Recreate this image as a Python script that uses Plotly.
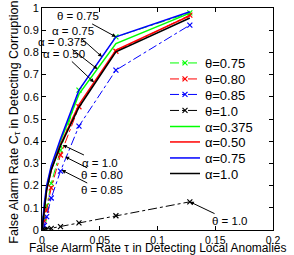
import plotly.graph_objects as go

fa_tau = [0, 0.002, 0.004, 0.008, 0.016, 0.032, 0.064, 0.128]

theta_labels = ["θ=0.75", "θ=0.80", "θ=0.85", "θ=1.0"]
theta_vals = [
    [0, 0.05, 0.11, 0.21, 0.36, 0.63, 0.87, 0.978],
    [0, 0.04, 0.09, 0.19, 0.338, 0.555, 0.805, 0.968],
    [0, 0.02, 0.06, 0.144, 0.265, 0.468, 0.72, 0.923],
    [0, 0.002, 0.004, 0.007, 0.015, 0.032, 0.064, 0.127],
]
theta_colors = ["#00ff00", "#ff0000", "#0000ff", "#000000"]

alpha_labels = ["α=0.375", "α=0.50", "α=0.75", "α=1.0"]
alpha_vals = [
    [0, 0.11, 0.19, 0.28, 0.40, 0.612, 0.84, 0.977],
    [0, 0.10, 0.18, 0.27, 0.385, 0.565, 0.81, 0.965],
    [0, 0.12, 0.20, 0.29, 0.41, 0.63, 0.87, 0.983],
    [0, 0.10, 0.18, 0.27, 0.38, 0.553, 0.803, 0.955],
]
alpha_colors = ["#00ff00", "#ff0000", "#0000ff", "#000000"]

x_ticks = [0, 0.05, 0.1, 0.15, 0.2]
x_ticklabels = ["0", "0.05", "0.1", "0.15", "0.2"]
y_ticks = [0, 0.1, 0.2, 0.3, 0.4, 0.5, 0.6, 0.7, 0.8, 0.9, 1]
y_ticklabels = ["0", "0.1", "0.2", "0.3", "0.4", "0.5", "0.6", "0.7", "0.8", "0.9", "1"]

x_title = "False Alarm Rate τ in Detecting Local Anomalies"
y_title = "False Alarm Rate C<sub>τ</sub> in Detecting Corruptions"

# annotations: text, head (x, y), text center (x, y) in data coords
ann_text = ["θ = 0.75", "α = 0.75", "α = 0.375", "α = 0.50",
            "α = 1.0", "θ = 0.80", "θ = 0.85", "θ = 1.0"]
ann_head = [(0.064, 0.87), (0.052, 0.78), (0.048, 0.725), (0.045, 0.665),
            (0.018, 0.383), (0.02, 0.33), (0.017, 0.27), (0.128, 0.127)]
ann_text_pos = [(0.0315, 0.962), (0.027, 0.896), (0.018, 0.847), (0.019, 0.793),
                (0.050, 0.304), (0.052, 0.246), (0.052, 0.178), (0.163, 0.04)]

FONT = "Arial, Liberation Sans, sans-serif"

# plot-area geometry (px) used to place the legend entries and x title
PLOT_L, PLOT_R, PLOT_T, PLOT_B = 42, 273, 8, 230
legend_rows_px = [63, 79, 94.5, 110.5, 126.5, 142, 158, 173.5]
legend_text_x_px = 213
x_title_center_px = 248

fig = go.Figure()
names = ["legend"] + [f"legend{i}" for i in range(2, 9)]
k = 0
for lab, ys, col in zip(theta_labels, theta_vals, theta_colors):
    fig.add_trace(go.Scatter(
        x=fa_tau, y=ys, name=lab, mode="lines+markers", legend=names[k],
        line=dict(color=col, width=1, dash="dashdot"),
        marker=dict(symbol="x-thin", size=5, line=dict(color=col, width=1.2)),
    ))
    k += 1
for lab, ys, col in zip(alpha_labels, alpha_vals, alpha_colors):
    fig.add_trace(go.Scatter(
        x=fa_tau, y=ys, name=lab, mode="lines", legend=names[k],
        line=dict(color=col, width=1.5),
    ))
    k += 1

for t, (hx, hy), (tx, ty) in zip(ann_text, ann_head, ann_text_pos):
    fig.add_annotation(
        x=hx, y=hy, ax=tx, ay=ty, axref="x", ayref="y", xref="x", yref="y",
        text=t, showarrow=True, arrowhead=2, arrowsize=0.8, arrowwidth=1,
        arrowcolor="black", font=dict(family=FONT, size=11.5, color="black"),
        standoff=0,
    )

# x-axis title as a paper annotation so it can sit just under the tick labels
fig.add_annotation(
    x=0.5, y=(PLOT_B - x_title_center_px) / (PLOT_B - PLOT_T),
    xref="paper", yref="paper", xanchor="center", yanchor="middle",
    text=x_title, showarrow=False, font=dict(family=FONT, size=12, color="black"),
)

legend_x = (legend_text_x_px - 48 - PLOT_L) / (PLOT_R - PLOT_L)
layout_legends = {}
for name, py in zip(names, legend_rows_px):
    layout_legends[name] = dict(
        x=legend_x, y=(PLOT_B - py) / (PLOT_B - PLOT_T),
        xanchor="left", yanchor="middle",
        bgcolor="rgba(0,0,0,0)", font=dict(family=FONT, size=13),
        itemwidth=30,
    )

fig.update_layout(
    width=294, height=255,
    margin=dict(l=PLOT_L, r=294 - PLOT_R, t=PLOT_T, b=255 - PLOT_B, autoexpand=False),
    paper_bgcolor="white", plot_bgcolor="white",
    font=dict(family=FONT, size=11, color="black"),
    showlegend=True,
    **layout_legends,
)
fig.update_xaxes(
    range=[0, 0.2], tickvals=x_ticks, ticktext=x_ticklabels, automargin=False,
    showgrid=False, zeroline=False, showline=True, linecolor="black",
    linewidth=1, mirror="ticks", ticks="inside", ticklen=4, tickcolor="black",
    tickfont=dict(size=10.5),
)
fig.update_yaxes(
    range=[0, 1], tickvals=y_ticks, ticktext=y_ticklabels, automargin=True,
    showgrid=False, zeroline=False, showline=True, linecolor="black",
    linewidth=1, mirror="ticks", ticks="inside", ticklen=4, tickcolor="black",
    tickfont=dict(size=11),
    title=dict(text=y_title, font=dict(size=12.5), standoff=2),
)

fig.write_html("out.html")
